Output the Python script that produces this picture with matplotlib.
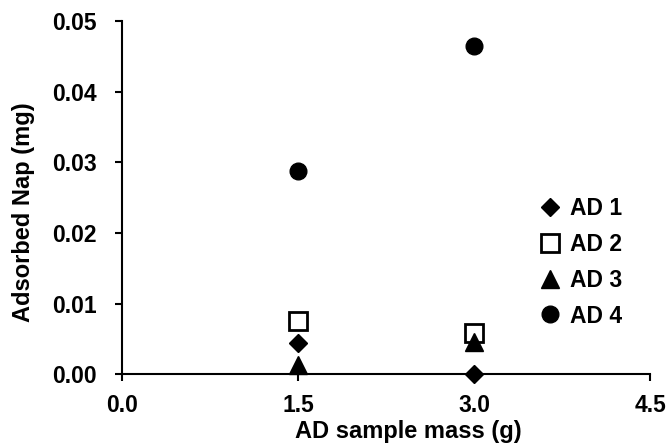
import numpy as np
import matplotlib.pyplot as plt

plt.rcParams['font.family'] = ['Liberation Sans', 'DejaVu Sans']
plt.rcParams['font.weight'] = 'bold'

mass = [1.5, 3.0]
ad1 = [0.00435, 0.0]
ad2 = [0.0075, 0.00576]
ad3 = [0.0013, 0.0046]
ad4 = [0.0287, 0.0465]

fig = plt.figure(figsize=(6.67, 4.47), dpi=100)
ax = fig.add_axes([0.183, 0.163, 0.792, 0.79])

ax.plot(mass, ad1, 'D', color='black', markersize=9, label='AD 1', clip_on=False, zorder=5)
ax.plot(mass, ad2, 's', markerfacecolor='white', markeredgecolor='black', markeredgewidth=2,
        markersize=13, label='AD 2', clip_on=False, zorder=3)
ax.plot(mass, ad3, '^', color='black', markersize=13, label='AD 3', clip_on=False, zorder=4)
ax.plot(mass, ad4, 'o', color='black', markersize=12, label='AD 4', clip_on=False, zorder=3)

ax.set_xlim(0, 4.5)
ax.set_ylim(0, 0.05)
ax.set_xticks([0.0, 1.5, 3.0, 4.5])
ax.set_xticklabels(['0.0', '1.5', '3.0', '4.5'])
ax.set_yticks(np.arange(0, 0.051, 0.01))
ax.set_yticklabels(['0.00', '0.01', '0.02', '0.03', '0.04', '0.05'])
ax.spines['top'].set_visible(False)
ax.spines['right'].set_visible(False)
ax.spines['left'].set_linewidth(1.5)
ax.spines['bottom'].set_linewidth(1.5)
ax.tick_params(axis='both', labelsize=16.5, width=1.5, length=5, direction='out')
ax.tick_params(axis='y', pad=13)
ax.tick_params(axis='x', pad=9)
ax.set_xlabel('AD sample mass (g)', fontsize=17, fontweight='bold')
ax.set_ylabel('Adsorbed Nap (mg)', fontsize=17, fontweight='bold')
ax.xaxis.set_label_coords(0.542, -0.13)
ax.yaxis.set_label_coords(-0.165, 0.46)

ax.legend(loc='upper left', bbox_to_anchor=(0.75, 0.56), frameon=False, fontsize=16.5,
          handletextpad=0.35, labelspacing=0.56, handlelength=1.0)

fig.savefig('out.png', dpi=100)
